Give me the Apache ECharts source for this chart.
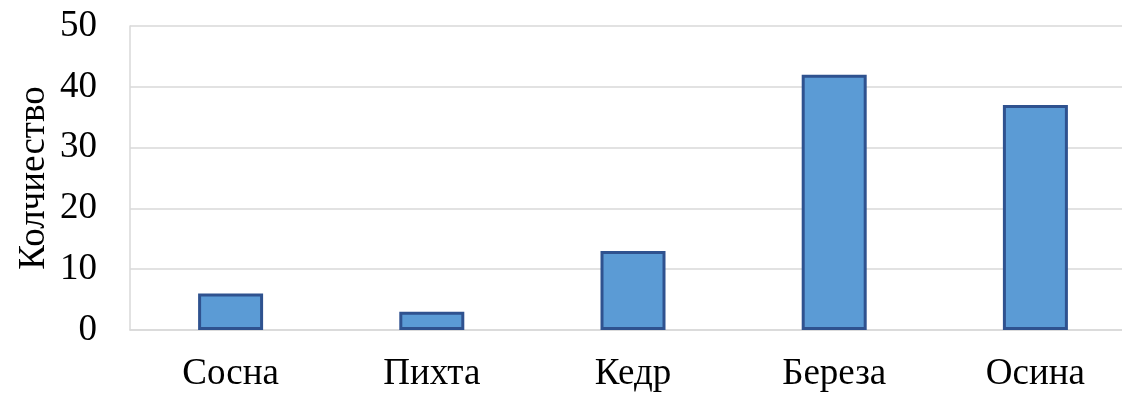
<!DOCTYPE html>
<html>
<head>
<meta charset="utf-8">
<script src="https://cdn.jsdelivr.net/npm/echarts@6/dist/echarts.min.js"></script>
<style>
  html, body { margin: 0; padding: 0; background: #fff; }
  #chart { width: 1122px; height: 396px; }
</style>
</head>
<body>
<div id="chart"></div>
<script>
// Tree species counts
const categories = ['Сосна', 'Пихта', 'Кедр', 'Береза', 'Осина'];
const counts = [6, 3, 13, 42, 37];
const yTicks = { min: 0, max: 50, interval: 10 };
const yTitle = 'Колчиество';

const font = '"Liberation Serif", "Times New Roman", serif';
const chart = echarts.init(document.getElementById('chart'), null, { renderer: 'canvas' });

chart.setOption({
  animation: false,
  backgroundColor: '#ffffff',
  grid: {
    left: 130, top: 26, width: 1006, bottom: 66,
    containLabel: false,
    outerBoundsMode: 'none'
  },
  xAxis: {
    type: 'category',
    data: categories,
    axisLine: { show: true, lineStyle: { color: '#d9d9d9', width: 1.5 } },
    axisTick: { show: false },
    axisLabel: { color: '#000', fontFamily: font, fontSize: 37, margin: 26 }
  },
  yAxis: {
    type: 'value',
    min: yTicks.min,
    max: yTicks.max,
    interval: yTicks.interval,
    name: yTitle,
    nameLocation: 'middle',
    nameGap: 77,
    nameMoveOverlap: false,
    nameRotate: 90,
    nameTextStyle: { color: '#000', fontFamily: font, fontSize: 37 },
    axisLine: { show: true, lineStyle: { color: '#d9d9d9', width: 1.5 } },
    axisTick: { show: false },
    axisLabel: { color: '#000', fontFamily: font, fontSize: 37, margin: 33 },
    splitLine: { show: true, lineStyle: { color: '#d9d9d9', width: 1.5 } }
  },
  series: [{
    type: 'bar',
    data: counts,
    barWidth: 65,
    itemStyle: { color: '#5b9bd5', borderColor: '#2f528f', borderWidth: 3 }
  }]
});
</script>
</body>
</html>
